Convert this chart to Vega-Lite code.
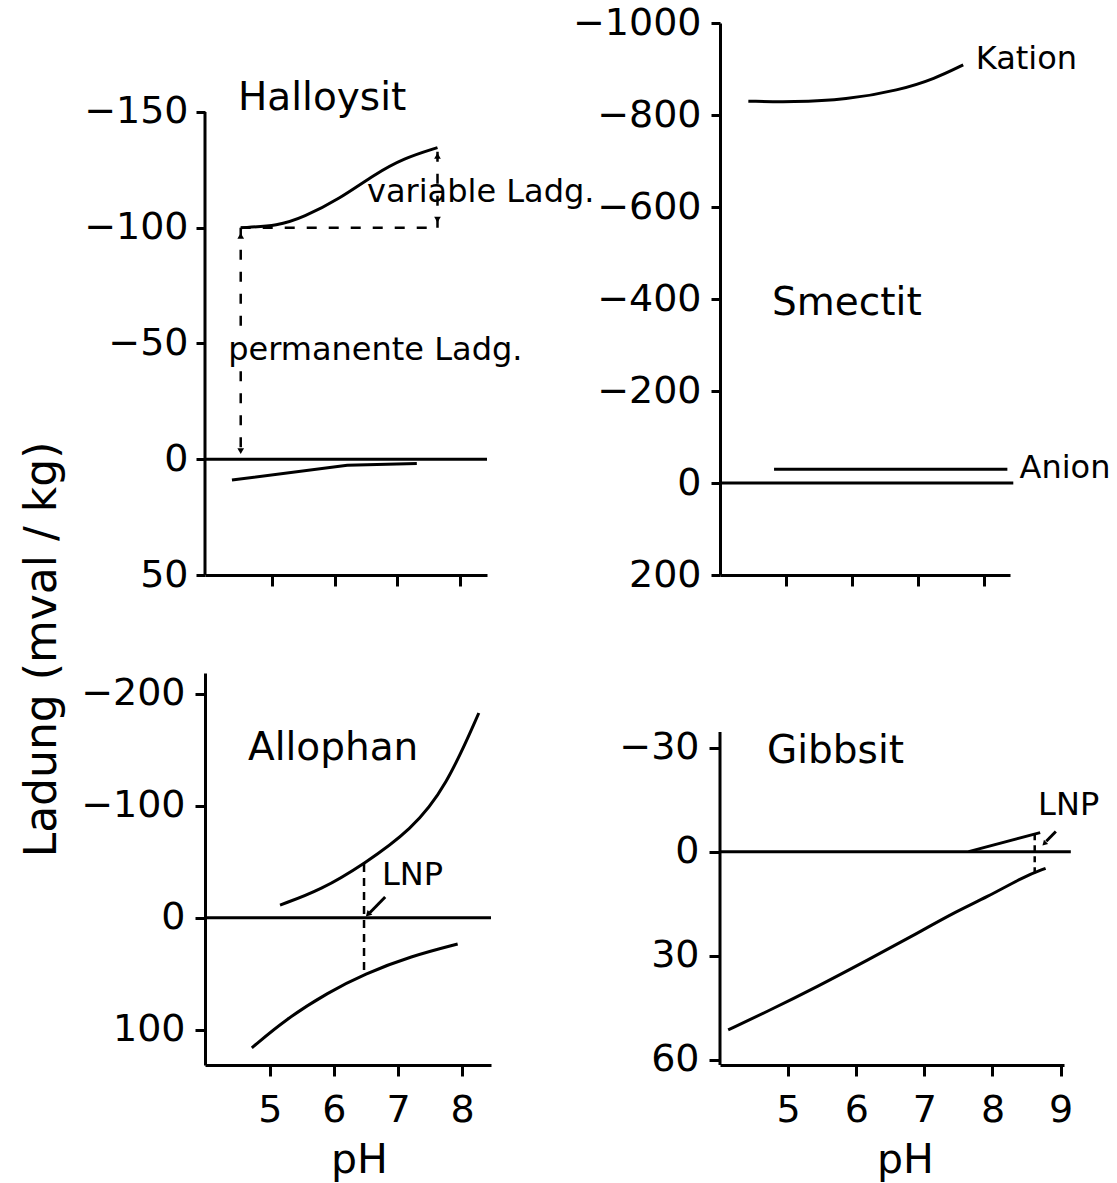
{
  "$schema": "https://vega.github.io/schema/vega-lite/v6.json",
  "background": "white",
  "padding": {"left": 20, "top": 4, "right": 0, "bottom": 30},
  "columns": 2,
  "spacing": {"row": 98, "column": 229},
  "bounds": "flush",
  "concat": [
    {
      "width": 282,
      "height": 552,
      "data": {"values": [
        {"series": "Kurve", "pH": 4.5, "ladung": -100},
        {"series": "Kurve", "pH": 5.1, "ladung": -100.8},
        {"series": "Kurve", "pH": 5.5, "ladung": -104.5},
        {"series": "Kurve", "pH": 6.07, "ladung": -112.3},
        {"series": "Kurve", "pH": 6.64, "ladung": -123.1},
        {"series": "Kurve", "pH": 7.1, "ladung": -130},
        {"series": "Kurve", "pH": 7.64, "ladung": -134.6},
        {"series": "Kurve2", "pH": 4.36, "ladung": 9},
        {"series": "Kurve2", "pH": 6.2, "ladung": 2.6},
        {"series": "Kurve2", "pH": 7.31, "ladung": 1.8},
        {"series": "Null", "pH": 3.93, "ladung": 0},
        {"series": "Null", "pH": 8.43, "ladung": 0},
        {"series": "Achse", "pH": 3.93, "ladung": -150},
        {"series": "Achse", "pH": 3.93, "ladung": 50},
        {"series": "permanent1", "pH": 4.5, "ladung": -100},
        {"series": "permanent1", "pH": 4.5, "ladung": -54},
        {"series": "permanent2", "pH": 4.5, "ladung": -38},
        {"series": "permanent2", "pH": 4.5, "ladung": 0},
        {"series": "Basis", "pH": 4.5, "ladung": -100},
        {"series": "Basis", "pH": 7.64, "ladung": -100},
        {"series": "variabel", "pH": 7.64, "ladung": -100},
        {"series": "variabel", "pH": 7.64, "ladung": -134.6},
        {"series": "Spitze", "pH": 4.5, "ladung": -96.5, "dir": "up"},
        {"series": "Spitze", "pH": 4.5, "ladung": -3.5, "dir": "down"},
        {"series": "Spitze", "pH": 7.64, "ladung": -131, "dir": "up"},
        {"series": "Spitze", "pH": 7.64, "ladung": -103.5, "dir": "down"},
        {"series": "Titel", "label": "Halloysit", "pH": 4.457, "ladung": -150.8},
        {"series": "Notiz", "label": "variable Ladg.", "pH": 6.515, "ladung": -111},
        {"series": "Notiz", "label": "permanente Ladg.", "pH": 4.3, "ladung": -42.8}
      ]},
      "encoding": {
        "x": {"field": "pH", "type": "quantitative",
              "scale": {"domain": [3.93, 8.43], "nice": false, "zero": false},
              "axis": {"values": [5, 6, 7, 8], "labels": false, "title": null, "tickSize": 11}},
        "y": {"field": "ladung", "type": "quantitative",
              "scale": {"domain": [-188.4, 50], "nice": false, "zero": false, "reverse": true},
              "axis": {"values": [-150, -100, -50, 0, 50], "format": "d", "domain": false, "tickSize": 9, "labelPadding": 8,
                       "title": "Ladung (mval / kg)", "titleFontSize": 44, "titleAngle": -90, "titleX": -150, "titleY": 626,
                       "titleAlign": "center", "titleBaseline": "alphabetic"}}
      },
      "layer": [
        {"transform": [{"filter": {"field": "series", "oneOf": ["Null", "Achse", "Kurve2"]}}],
         "mark": {"type": "line", "color": "black", "strokeWidth": 3},
         "encoding": {"detail": {"field": "series", "type": "nominal"}}},
        {"transform": [{"filter": {"field": "series", "equal": "Kurve"}}],
         "mark": {"type": "line", "color": "black", "strokeWidth": 3, "interpolate": "basis"}},
        {"transform": [{"filter": {"field": "series", "oneOf": ["permanent1", "permanent2", "Basis", "variabel"]}}],
         "mark": {"type": "line", "color": "black", "strokeWidth": 2.5, "strokeDash": [10, 12]},
         "encoding": {"detail": {"field": "series", "type": "nominal"}}},
        {"transform": [{"filter": {"field": "series", "equal": "Spitze"}}],
         "mark": {"type": "point", "filled": true, "color": "black", "size": 45, "opacity": 1},
         "encoding": {"shape": {"field": "dir", "type": "nominal", "scale": {"domain": ["up", "down"], "range": ["triangle-up", "triangle-down"]}, "legend": null}}},
        {"transform": [{"filter": {"field": "series", "equal": "Titel"}}],
         "mark": {"type": "text", "font": "DejaVu Sans", "fontSize": 39, "align": "left", "baseline": "alphabetic", "color": "black"},
         "encoding": {"text": {"field": "label", "type": "nominal"}}},
        {"transform": [{"filter": {"field": "series", "equal": "Notiz"}}],
         "mark": {"type": "text", "font": "DejaVu Sans", "fontSize": 32, "align": "left", "baseline": "alphabetic", "color": "black"},
         "encoding": {"text": {"field": "label", "type": "nominal"}}}
      ]
    },
    {
      "width": 290,
      "height": 552,
      "data": {"values": [
        {"series": "Kurve", "pH": 4.43, "ladung": -830},
        {"series": "Kurve", "pH": 5.11, "ladung": -828},
        {"series": "Kurve", "pH": 5.91, "ladung": -833},
        {"series": "Kurve", "pH": 6.72, "ladung": -854},
        {"series": "Kurve", "pH": 7.26, "ladung": -879},
        {"series": "Kurve", "pH": 7.69, "ladung": -909},
        {"series": "Anion", "pH": 4.82, "ladung": -30},
        {"series": "Anion", "pH": 8.36, "ladung": -30},
        {"series": "Null", "pH": 4, "ladung": 0},
        {"series": "Null", "pH": 8.45, "ladung": 0},
        {"series": "Titel", "label": "Smectit", "pH": 4.79, "ladung": -365},
        {"series": "Notiz", "label": "Kation", "pH": 7.88, "ladung": -900},
        {"series": "Notiz", "label": "Anion", "pH": 8.545, "ladung": -11}
      ]},
      "encoding": {
        "x": {"field": "pH", "type": "quantitative",
              "scale": {"domain": [4, 8.4], "nice": false, "zero": false},
              "axis": {"values": [5, 6, 7, 8], "labels": false, "title": null, "tickSize": 11}},
        "y": {"field": "ladung", "type": "quantitative",
              "scale": {"domain": [-1000, 200], "nice": false, "zero": false, "reverse": true},
              "axis": {"values": [-1000, -800, -600, -400, -200, 0, 200], "format": "d", "tickSize": 9, "labelPadding": 10, "title": null}}
      },
      "layer": [
        {"transform": [{"filter": {"field": "series", "oneOf": ["Null", "Anion"]}}],
         "mark": {"type": "line", "color": "black", "strokeWidth": 3},
         "encoding": {"detail": {"field": "series", "type": "nominal"}}},
        {"transform": [{"filter": {"field": "series", "equal": "Kurve"}}],
         "mark": {"type": "line", "color": "black", "strokeWidth": 3, "interpolate": "basis"}},
        {"transform": [{"filter": {"field": "series", "equal": "Titel"}}],
         "mark": {"type": "text", "font": "DejaVu Sans", "fontSize": 39, "align": "left", "baseline": "alphabetic", "color": "black"},
         "encoding": {"text": {"field": "label", "type": "nominal"}}},
        {"transform": [{"filter": {"field": "series", "equal": "Notiz"}}],
         "mark": {"type": "text", "font": "DejaVu Sans", "fontSize": 32, "align": "left", "baseline": "alphabetic", "color": "black"},
         "encoding": {"text": {"field": "label", "type": "nominal"}}}
      ]
    },
    {
      "width": 286,
      "height": 392,
      "data": {"values": [
        {"series": "Kurve", "pH": 5.16, "ladung": -11.4},
        {"series": "Kurve", "pH": 5.8, "ladung": -24.9},
        {"series": "Kurve", "pH": 6.47, "ladung": -48},
        {"series": "Kurve", "pH": 7.21, "ladung": -78.5},
        {"series": "Kurve", "pH": 7.75, "ladung": -116.7},
        {"series": "Kurve", "pH": 8.26, "ladung": -182.7},
        {"series": "Kurve2", "pH": 4.72, "ladung": 116},
        {"series": "Kurve2", "pH": 5.25, "ladung": 90.4},
        {"series": "Kurve2", "pH": 5.92, "ladung": 66.3},
        {"series": "Kurve2", "pH": 6.47, "ladung": 50.2},
        {"series": "Kurve2", "pH": 7.21, "ladung": 34.1},
        {"series": "Kurve2", "pH": 7.93, "ladung": 23.4},
        {"series": "Null", "pH": 3.99, "ladung": 0},
        {"series": "Null", "pH": 8.45, "ladung": 0},
        {"series": "LNP", "pH": 6.47, "ladung": -48},
        {"series": "LNP", "pH": 6.47, "ladung": 50.2},
        {"series": "Pfeil", "pH": 6.8, "ladung": -18.6},
        {"series": "Pfeil", "pH": 6.56, "ladung": -4.5},
        {"series": "Spitze", "pH": 6.53, "ladung": -3},
        {"series": "Titel", "label": "Allophan", "pH": 4.66, "ladung": -140.8},
        {"series": "Notiz", "label": "LNP", "pH": 6.75, "ladung": -29.3}
      ]},
      "encoding": {
        "x": {"field": "pH", "type": "quantitative",
              "scale": {"domain": [3.99, 8.45], "nice": false, "zero": false},
              "axis": {"values": [5, 6, 7, 8], "format": "d", "tickSize": 11, "labelPadding": 15,
                       "title": "pH", "titleFontSize": 41, "titleX": 154, "titleY": 107, "titleAlign": "center", "titleBaseline": "alphabetic", "titleAngle": 0}},
        "y": {"field": "ladung", "type": "quantitative",
              "scale": {"domain": [-218.4, 131.3], "nice": false, "zero": false, "reverse": true},
              "axis": {"values": [-200, -100, 0, 100], "format": "d", "tickSize": 10, "labelPadding": 10, "title": null}}
      },
      "layer": [
        {"transform": [{"filter": {"field": "series", "oneOf": ["Null", "Pfeil"]}}],
         "mark": {"type": "line", "color": "black", "strokeWidth": 3},
         "encoding": {"detail": {"field": "series", "type": "nominal"}}},
        {"transform": [{"filter": {"field": "series", "oneOf": ["Kurve", "Kurve2"]}}],
         "mark": {"type": "line", "color": "black", "strokeWidth": 3, "interpolate": "basis"},
         "encoding": {"detail": {"field": "series", "type": "nominal"}}},
        {"transform": [{"filter": {"field": "series", "equal": "LNP"}}],
         "mark": {"type": "line", "color": "black", "strokeWidth": 2.5, "strokeDash": [8, 6]}},
        {"transform": [{"filter": {"field": "series", "equal": "Spitze"}}],
         "mark": {"type": "point", "shape": "triangle-down", "angle": 45, "filled": true, "color": "black", "size": 45, "opacity": 1}},
        {"transform": [{"filter": {"field": "series", "equal": "Titel"}}],
         "mark": {"type": "text", "font": "DejaVu Sans", "fontSize": 39, "align": "left", "baseline": "alphabetic", "color": "black"},
         "encoding": {"text": {"field": "label", "type": "nominal"}}},
        {"transform": [{"filter": {"field": "series", "equal": "Notiz"}}],
         "mark": {"type": "text", "font": "DejaVu Sans", "fontSize": 32, "align": "left", "baseline": "alphabetic", "color": "black"},
         "encoding": {"text": {"field": "label", "type": "nominal"}}}
      ]
    },
    {
      "width": 344,
      "height": 392,
      "data": {"values": [
        {"series": "Kurve2", "pH": 4.12, "ladung": 51.4},
        {"series": "Kurve2", "pH": 4.69, "ladung": 46.1},
        {"series": "Kurve2", "pH": 5.43, "ladung": 38.9},
        {"series": "Kurve2", "pH": 6.17, "ladung": 31.2},
        {"series": "Kurve2", "pH": 6.91, "ladung": 23.4},
        {"series": "Kurve2", "pH": 7.41, "ladung": 17.8},
        {"series": "Kurve2", "pH": 7.93, "ladung": 13},
        {"series": "Kurve2", "pH": 8.46, "ladung": 7.2},
        {"series": "Kurve2", "pH": 8.78, "ladung": 4.8},
        {"series": "Kurve", "pH": 7.65, "ladung": 0},
        {"series": "Kurve", "pH": 8.7, "ladung": -5.5},
        {"series": "Null", "pH": 4, "ladung": 0},
        {"series": "Null", "pH": 9.15, "ladung": 0},
        {"series": "Achse", "pH": 4, "ladung": -34.5},
        {"series": "Achse", "pH": 4, "ladung": 61.5},
        {"series": "LNP", "pH": 8.62, "ladung": -5},
        {"series": "LNP", "pH": 8.62, "ladung": 6.3},
        {"series": "Pfeil", "pH": 8.93, "ladung": -5.8},
        {"series": "Pfeil", "pH": 8.79, "ladung": -3},
        {"series": "Spitze", "pH": 8.76, "ladung": -2.3},
        {"series": "Titel", "label": "Gibbsit", "pH": 4.69, "ladung": -25.5},
        {"series": "Notiz", "label": "LNP", "pH": 8.67, "ladung": -10.6}
      ]},
      "encoding": {
        "x": {"field": "pH", "type": "quantitative",
              "scale": {"domain": [4, 9.05], "nice": false, "zero": false},
              "axis": {"values": [5, 6, 7, 8, 9], "format": "d", "tickSize": 11, "labelPadding": 15,
                       "title": "pH", "titleFontSize": 41, "titleX": 185, "titleY": 107, "titleAlign": "center", "titleBaseline": "alphabetic", "titleAngle": 0}},
        "y": {"field": "ladung", "type": "quantitative",
              "scale": {"domain": [-51.5, 61.5], "nice": false, "zero": false, "reverse": true},
              "axis": {"values": [-30, 0, 30, 60], "format": "d", "domain": false, "tickSize": 11, "labelPadding": 10, "title": null}}
      },
      "layer": [
        {"transform": [{"filter": {"field": "series", "oneOf": ["Null", "Achse", "Kurve", "Pfeil"]}}],
         "mark": {"type": "line", "color": "black", "strokeWidth": 3},
         "encoding": {"detail": {"field": "series", "type": "nominal"}}},
        {"transform": [{"filter": {"field": "series", "equal": "Kurve2"}}],
         "mark": {"type": "line", "color": "black", "strokeWidth": 3, "interpolate": "basis"}},
        {"transform": [{"filter": {"field": "series", "equal": "LNP"}}],
         "mark": {"type": "line", "color": "black", "strokeWidth": 2.5, "strokeDash": [6, 5]}},
        {"transform": [{"filter": {"field": "series", "equal": "Spitze"}}],
         "mark": {"type": "point", "shape": "triangle-down", "angle": 45, "filled": true, "color": "black", "size": 35, "opacity": 1}},
        {"transform": [{"filter": {"field": "series", "equal": "Titel"}}],
         "mark": {"type": "text", "font": "DejaVu Sans", "fontSize": 39, "align": "left", "baseline": "alphabetic", "color": "black"},
         "encoding": {"text": {"field": "label", "type": "nominal"}}},
        {"transform": [{"filter": {"field": "series", "equal": "Notiz"}}],
         "mark": {"type": "text", "font": "DejaVu Sans", "fontSize": 32, "align": "left", "baseline": "alphabetic", "color": "black"},
         "encoding": {"text": {"field": "label", "type": "nominal"}}}
      ]
    }
  ],
  "config": {
    "view": {"stroke": null},
    "font": "DejaVu Sans",
    "axis": {
      "domainColor": "black", "domainWidth": 3, "tickColor": "black", "tickWidth": 3,
      "labelColor": "black", "labelFont": "DejaVu Sans", "labelFontSize": 38,
      "titleColor": "black", "titleFont": "DejaVu Sans", "titleFontWeight": "normal",
      "grid": false, "labelFlush": false, "labelOverlap": false
    }
  }
}
